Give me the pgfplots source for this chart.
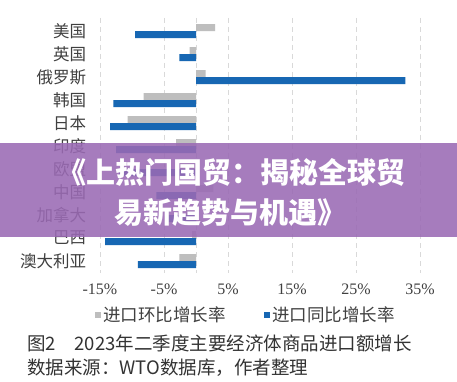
\documentclass[border=0pt]{standalone}
\usepackage{pgfplots}
\pgfplotsset{compat=1.18}
\usepackage{fontspec}
\setmainfont{Liberation Serif}
\newfontfamily\cjk{Noto Sans CJK SC}
\definecolor{barblue}{HTML}{1767B3}
\definecolor{bargray}{HTML}{BEBEBE}
\definecolor{gridc}{HTML}{D9D9D9}
\definecolor{txt}{HTML}{404040}
\definecolor{banner}{HTML}{9A6AB4}
\pgfplotstableread{
y  hb    tb
0  3.0   -9.5
1  -1.0  -2.6
2  1.5   32.7
3  -8.2  -12.9
4  -10.7 -13.4
5  -3.1  -12.5
6  -2.5  -12.0
7  2.7   -6.2
8  -1.5  -4.5
9  -0.6  -14.2
10 -2.6  -9.1
}\datatable
\begin{document}
\begin{tikzpicture}
\useasboundingbox (0,0) rectangle (457pt,382pt);
\fill[white] (0,0) rectangle (457pt,382pt);
\begin{axis}[
  at={(100pt,109.5pt)}, anchor=south west,
  scale only axis, width=320pt, height=254.5pt,
  xmin=-15, xmax=35, ymin=-0.57, ymax=10.5,
  y dir=reverse,
  axis line style={draw=none},
  tick style={draw=none},
  xtick={-15,-5,5,15,25,35},
  xticklabels={-15\%,-5\%,5\%,15\%,25\%,35\%},
  xticklabel style={font=\fontsize{16}{16}\selectfont, text=txt, yshift=-8pt},
  ytick={0,...,10},
  yticklabels={美国,英国,俄罗斯,韩国,日本,印度,欧盟,中国,加拿大,巴西,澳大利亚},
  yticklabel style={font=\cjk\fontsize{16.5}{16.5}\selectfont, text=txt, xshift=-6pt},
  xmajorgrids, ymajorgrids=false,
  major grid style={gridc, dash pattern=on 5pt off 4pt, line width=0.6pt},
  extra x ticks={0}, extra x tick labels={},
  extra x tick style={grid style={solid, gridc, line width=0.8pt}},
  xbar, bar width=7pt,
  legend columns=2,
  legend style={at={(0.455,-0.167)}, anchor=center, draw=none, fill=none,
    font=\cjk\fontsize{17.5}{17.5}\selectfont, text=txt,
    /tikz/every even column/.append style={column sep=36pt}},
]
\addplot[draw=none, fill=bargray, bar shift=3.5pt,
  legend image code/.code={\fill[bargray] (0pt,-3pt) rectangle (6.5pt,3.5pt);}]
  table[x=hb, y=y] {\datatable};
\addlegendentry{进口环比增长率}
\addplot[draw=none, fill=barblue, bar shift=-3.5pt,
  legend image code/.code={\fill[barblue] (0pt,-3pt) rectangle (6.5pt,3.5pt);}]
  table[x=tb, y=y] {\datatable};
\addlegendentry{进口同比增长率}
\end{axis}
\node[anchor=west, font=\cjk\fontsize{18.5}{18.5}\selectfont, text=black!80, inner sep=0pt] at (27pt,39pt) {图2\hspace{1em}2023年二季度主要经济体商品进口额增长};
\node[anchor=west, font=\cjk\fontsize{18.5}{18.5}\selectfont, text=black!80, inner sep=0pt] at (27pt,14pt) {数据来源：WTO数据库，作者整理};
\fill[banner, opacity=0.88] (0,145pt) rectangle (457pt,239pt);
\node[font=\cjk\bfseries\fontsize{29}{29}\selectfont, text=white, inner sep=0pt] at (231pt,210pt) {《上热门国贸：揭秘全球贸};
\node[font=\cjk\bfseries\fontsize{29}{29}\selectfont, text=white, inner sep=0pt] at (230pt,169pt) {易新趋势与机遇》};
\end{tikzpicture}
\end{document}
